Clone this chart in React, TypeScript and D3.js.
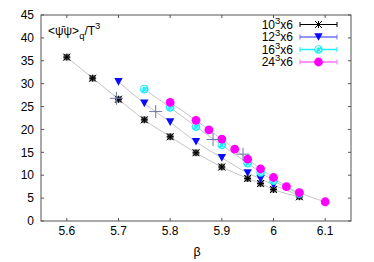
import React from 'react';
import * as d3 from 'd3';

const W = 374, H = 262;

const beta10 = [5.6, 5.65, 5.7, 5.75, 5.8, 5.85, 5.9, 5.95, 5.975, 6.0, 6.05];
const val10 = [35.8, 31.2, 26.6, 22.1, 18.4, 14.9, 11.8, 9.3, 8.2, 6.9, 5.3];

const beta12 = [5.7, 5.75, 5.8, 5.85, 5.9, 5.95, 5.975, 6.0, 6.05];
const val12 = [30.4, 25.7, 21.6, 17.3, 13.8, 10.5, 9.2, 7.9, 5.6];

const beta16 = [5.75, 5.8, 5.85, 5.9, 5.95, 5.975, 6.0, 6.05];
const val16 = [28.8, 24.8, 20.6, 16.6, 12.6, 10.6, 8.8, 6.0];

const beta24 = [5.8, 5.85, 5.875, 5.9, 5.925, 5.95, 5.975, 6.0, 6.025, 6.05, 6.1];
const val24 = [25.9, 22.0, 19.9, 17.9, 15.7, 13.5, 11.4, 9.5, 7.5, 6.2, 4.2];

const crossBeta = [5.696, 5.772, 5.883, 5.941];
const crossVal = [26.8, 23.9, 17.8, 14.6];

const xTicks = [5.6, 5.7, 5.8, 5.9, 6.0, 6.1];
const xTickLabels = ['5.6', '5.7', '5.8', '5.9', '6', '6.1'];
const yTicks = [0, 5, 10, 15, 20, 25, 30, 35, 40, 45];

const legendLabels = ['10', '12', '16', '24'];

const FONT = 'Liberation Sans, Arial, sans-serif';

const left = 41, right = 351, top = 15, bottom = 221;
const x = d3.scaleLinear().domain([5.55, 6.15]).range([left, right]);
const y = d3.scaleLinear().domain([0, 45]).range([bottom, top]);

type Kind = 'star' | 'tri' | 'cyan' | 'mag';

function Marker({ kind, cx, cy }: { kind: Kind; cx: number; cy: number }) {
  if (kind === 'star') {
    const s = 3.5;
    return (
      <g stroke="#000" strokeWidth={1}>
        <rect x={cx - 3} y={cy - 3} width={6} height={6} fill="#555" stroke="#999" strokeWidth={0.6} />
        <line x1={cx - s} y1={cy} x2={cx + s} y2={cy} />
        <line x1={cx} y1={cy - s} x2={cx} y2={cy + s} />
        <line x1={cx - s} y1={cy - s} x2={cx + s} y2={cy + s} />
        <line x1={cx - s} y1={cy + s} x2={cx + s} y2={cy - s} />
      </g>
    );
  }
  if (kind === 'tri') {
    const w = 4.2, h = 3.8;
    return <path d={`M${cx - w},${cy - h}L${cx + w},${cy - h}L${cx},${cy + h}Z`} fill="#0a0aff" />;
  }
  if (kind === 'cyan') {
    return (
      <g>
        <circle cx={cx} cy={cy} r={4.3} fill="#20eeff" />
        <path d={`M${cx - 2},${cy + 1}A2.2,2.2 0 0 1 ${cx + 1.5},${cy - 2}`} stroke="#fff" strokeWidth={1.1} fill="none" />
        <path d={`M${cx + 2},${cy - 0.5}A2.2,2.2 0 0 1 ${cx - 0.5},${cy + 2.4}`} stroke="#c8ffff" strokeWidth={1} fill="none" />
      </g>
    );
  }
  return <circle cx={cx} cy={cy} r={4.4} fill="#ff00ff" />;
}

export default function App() {
  const series: { b: number[]; v: number[]; kind: Kind; lcol: string }[] = [
    { b: beta10, v: val10, kind: 'star', lcol: '#000' },
    { b: beta12, v: val12, kind: 'tri', lcol: '#7070ff' },
    { b: beta16, v: val16, kind: 'cyan', lcol: '#20eeff' },
    { b: beta24, v: val24, kind: 'mag', lcol: '#ff70ff' },
  ];
  const line = d3
    .line<[number, number]>()
    .x((d) => x(d[0]))
    .y((d) => y(d[1]))
    .curve(d3.curveMonotoneX);

  const legY = [24.5, 37, 49.5, 62];

  return (
    <svg width={W} height={H} style={{ position: 'absolute', left: 0, top: 0, background: '#fff' }} fontFamily={FONT}>
      <rect width={W} height={H} fill="#fff" />
      {series.map((s, i) => (
        <path
          key={'l' + i}
          d={line(s.b.map((b, j) => [b, s.v[j]] as [number, number])) || ''}
          fill="none"
          stroke="#c4c4c4"
          strokeWidth={1}
        />
      ))}
      <rect x={left} y={top} width={right - left} height={bottom - top} fill="none" stroke="#555" strokeWidth={1} />
      {xTicks.map((t, i) => (
        <g key={'xt' + i}>
          <line x1={x(t)} x2={x(t)} y1={bottom} y2={bottom - 3} stroke="#555" />
          <line x1={x(t)} x2={x(t)} y1={top} y2={top + 3} stroke="#555" />
          <text x={x(t)} y={234.5} fontSize={12} textAnchor="middle" fill="#000">
            {xTickLabels[i]}
          </text>
        </g>
      ))}
      {yTicks.map((t, i) => (
        <g key={'yt' + i}>
          <line x1={left} x2={left + 3} y1={y(t)} y2={y(t)} stroke="#555" />
          <line x1={right} x2={right - 3} y1={y(t)} y2={y(t)} stroke="#555" />
          <text x={34} y={y(t) + 4.2} fontSize={12} textAnchor="end" fill="#000">
            {t}
          </text>
        </g>
      ))}
      {series.map((s, i) => (
        <g key={'m' + i}>
          {s.b.map((b, j) => (
            <Marker key={j} kind={s.kind} cx={x(b)} cy={y(s.v[j])} />
          ))}
        </g>
      ))}
      {crossBeta.map((b, i) => (
        <g key={'c' + i} stroke="#6c78a6" strokeWidth={1}>
          <line x1={x(b) - 6.5} x2={x(b) + 6.5} y1={y(crossVal[i])} y2={y(crossVal[i])} />
          <line x1={x(b)} x2={x(b)} y1={y(crossVal[i]) - 6.5} y2={y(crossVal[i]) + 6.5} />
        </g>
      ))}
      <text x={48} y={34.5} fontSize={12} fill="#000">
        {'<\u03C8\u0304\u03C8>'}
        <tspan fontSize={9.5} dy={4}>q</tspan>
        <tspan dy={-4}>/T</tspan>
        <tspan fontSize={9.5} dy={-6}>3</tspan>
      </text>
      <text x={197} y={256} fontSize={12.5} textAnchor="middle" fill="#000">
        {'\u03B2'}
      </text>
      {series.map((s, i) => (
        <g key={'lg' + i}>
          <text x={293} y={legY[i] + 4} fontSize={12} textAnchor="end" fill="#000">
            {legendLabels[i]}
            <tspan fontSize={9.5} dy={-5}>3</tspan>
            <tspan dy={5}>x6</tspan>
          </text>
          <line x1={300} x2={337} y1={legY[i]} y2={legY[i]} stroke={s.lcol} strokeWidth={i === 0 ? 1 : 1.5} />
          <line x1={300} x2={300} y1={legY[i] - 2.5} y2={legY[i] + 2.5} stroke={s.lcol} />
          <line x1={337} x2={337} y1={legY[i] - 2.5} y2={legY[i] + 2.5} stroke={s.lcol} />
          {i === 0 ? (
            <g stroke="#000" strokeWidth={1}>
              <line x1={315} x2={322} y1={legY[i]} y2={legY[i]} />
              <line x1={318.5} x2={318.5} y1={legY[i] - 3.5} y2={legY[i] + 3.5} />
              <line x1={315} x2={322} y1={legY[i] - 3.5} y2={legY[i] + 3.5} />
              <line x1={315} x2={322} y1={legY[i] + 3.5} y2={legY[i] - 3.5} />
            </g>
          ) : (
            <Marker kind={s.kind} cx={318.5} cy={legY[i]} />
          )}
        </g>
      ))}
    </svg>
  );
}
